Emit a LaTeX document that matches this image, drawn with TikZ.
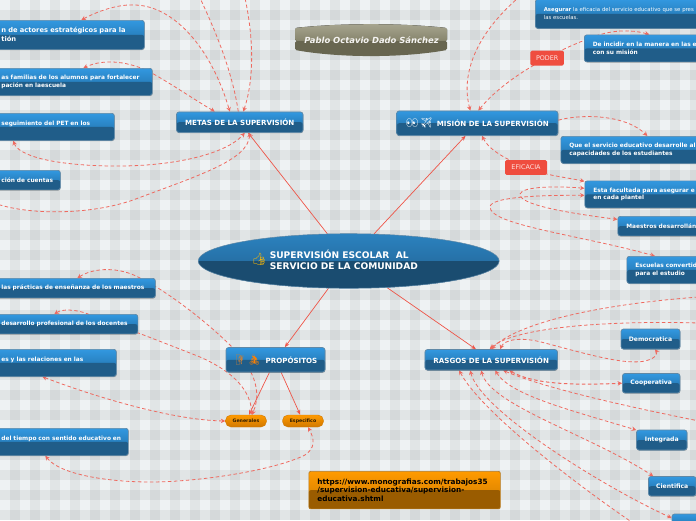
\documentclass[tikz,border=0pt]{standalone}
\usepackage{fontspec}
\setmainfont{DejaVu Sans}
\newfontfamily\emojifont{Noto Emoji}
\usetikzlibrary{arrows.meta,positioning,calc,shapes.geometric,backgrounds,shadows}

\definecolor{paper}{HTML}{EEF2F3}
\definecolor{sky}{HTML}{3298E0}
\definecolor{skyend}{HTML}{1F6AA0}
\definecolor{deep}{HTML}{205D89}
\definecolor{rim}{HTML}{5F88A6}
\definecolor{ovaltop}{HTML}{2B82BF}
\definecolor{ovalend}{HTML}{215F8E}
\definecolor{ovaldeep}{HTML}{1A4C70}
\definecolor{redlink}{HTML}{EE5548}
\definecolor{dashlink}{HTML}{EE6A60}
\definecolor{tagred}{HTML}{EF4D3F}
\definecolor{amber}{HTML}{FF9A00}
\definecolor{amberend}{HTML}{CC7A00}
\definecolor{amberdeep}{HTML}{9A5C00}
\definecolor{pilldeep}{HTML}{D07800}
\definecolor{olivetop}{HTML}{A8A690}
\definecolor{oliveend}{HTML}{86846C}
\definecolor{olivedeep}{HTML}{686650}

\tikzset{
  halfdark/.style={path picture={\fill[#1] (path picture bounding box.west) rectangle (path picture bounding box.south east);}},
  topic/.style={rectangle, rounded corners=2.5pt, draw=rim, line width=.7pt, inner sep=0pt, text=white,
    top color=sky, bottom color=skyend, halfdark=deep, font=\bfseries\fontsize{6.1}{7.8}\selectfont,
    drop shadow={shadow xshift=.3pt, shadow yshift=-.7pt, opacity=.3, fill=black}},
  head/.style={topic, align=center, font=\bfseries\fontsize{7.1}{8.5}\selectfont},
  leaf/.style={topic, align=center},
  sidebox/.style={topic, align=left, anchor=north west, inner xsep=8.5pt, font=\bfseries\fontsize{5.85}{7.8}\selectfont},
  tag/.style={rectangle, rounded corners=1.5pt, fill=tagred, text=white!85!tagred, inner sep=0pt,
    minimum height=14.8pt, font=\fontsize{6.4}{8}\selectfont},
  pill/.style={rectangle, rounded corners=5.5pt, draw=pilldeep, line width=.4pt, top color=amber, bottom color=pilldeep,
    inner sep=0pt, minimum width=41pt, minimum height=12pt, text=black!70!amberdeep,
    font=\bfseries\fontsize{4.7}{6}\selectfont},
  mainlink/.style={redlink, line width=.7pt, -{Stealth[length=5pt,width=4pt]}},
  rel/.style={dashlink, line width=.8pt, dash pattern=on 3.5pt off 2.5pt},
  both/.style={rel, {Stealth[length=4.5pt,width=4.5pt]}-{Stealth[length=4.5pt,width=4.5pt]}},
  toward/.style={rel, {Stealth[length=4.5pt,width=4.5pt]}-}
}

\begin{document}
\begin{tikzpicture}[x=1pt, y=-1pt]
  \useasboundingbox (0,0) rectangle (696,520);

  % centre and the four branches
  \node[ellipse, inner sep=0pt, minimum width=301pt, minimum height=54.6pt, draw=rim, line width=.5pt,
    top color=ovaltop, bottom color=ovalend, halfdark=ovaldeep, text=white,
    font=\bfseries\fontsize{9.1}{11}\selectfont] (centro) at (348.7,261)
    {\textcolor{orange!55!yellow}{\emojifont\fontsize{12}{12}\selectfont 👍}\hspace{3pt}\begin{tabular}{@{}l@{}}SUPERVISIÓN ESCOLAR\ \ AL\\SERVICIO DE LA COMUNIDAD\end{tabular}\kern28pt\relax};
  \node[head, minimum width=126.5pt, minimum height=20.5pt] (metas) at (239.8,122.2) {METAS DE LA SUPERVISIÓN};
  \node[head, minimum width=161.3pt, minimum height=24.5pt] (mision) at (477.3,123.2)
    {{\emojifont\fontsize{10}{10}\selectfont 👀\,✈}\hspace{4pt}MISIÓN DE LA SUPERVISIÓN};
  \node[head, minimum width=99pt, minimum height=24.5pt] (propositos) at (275.5,359.8)
    {{\emojifont\fontsize{10}{10}\selectfont\textcolor{brown}{🧗}\,\textcolor{orange}{🚴}}\ \ PROPÓSITOS};
  \node[head, minimum width=132.5pt, minimum height=20.5pt] (rasgos) at (491.2,359.8) {RASGOS DE LA SUPERVISIÓN};

  % metas
  \node[sidebox, inner xsep=7pt, text width=136pt, minimum height=29pt, font=\bfseries\fontsize{6.7}{9}\selectfont] (actores) at (-6,20)
    {n de actores estratégicos para la\\tión};
  \node[sidebox, inner xsep=7pt, text width=144pt, minimum height=27pt] (familias) at (-6,68)
    {\mbox{as familias de los alumnos para fortalecer}\\pación en laescuela};
  \node[sidebox, inner xsep=7pt, text width=106pt, minimum height=27pt] (pet) at (-6,113) {seguimiento del PET en los\\~};
  \node[sidebox, inner xsep=7pt, text width=52pt, minimum height=19.5pt] (cuentas) at (-6,170) {\mbox{ción de cuentas}};

  % mision
  \node[sidebox, text width=150pt, minimum height=29pt, font=\fontsize{5.35}{8}\selectfont] (asegurar) at (535,-1)
    {\mbox{\textbf{Asegurar} la eficacia del servicio educativo que se pres}\\las escuelas.};
  \node[sidebox, text width=120pt, minimum height=27pt] (incidir) at (584,34.5) {De incidir en la manera en las e\\con su misión};
  \node[sidebox, text width=140pt, minimum height=27pt] (servicio) at (560.5,136)
    {Que el servicio educativo desarrolle al\\capacidades de los estudiantes};
  \node[sidebox, text width=120pt, minimum height=27pt] (facultada) at (584.5,180.5) {Esta facultada para asegurar e\\en cada plantel};
  \node[sidebox, text width=85pt, minimum height=19.5pt] (maestros) at (617.5,216) {Maestros desarrollán};
  \node[sidebox, text width=75pt, minimum height=27pt] (escuelas) at (626.5,256) {Escuelas convertid\\para el estudio};
  \node[tag, minimum width=33.5pt] (poder) at (547.2,58.1) {PODER};
  \node[tag, minimum width=42pt] (eficacia) at (526,167.5) {EFICACIA};

  % propositos
  \node[sidebox, inner xsep=7pt, text width=147pt, minimum height=19.5pt] (practicas) at (-6,278)
    {\mbox{las prácticas de enseñanza de los maestros}};
  \node[sidebox, inner xsep=7pt, text width=129.5pt, minimum height=19.5pt] (desarrollo) at (-6,314)
    {\mbox{desarrollo profesional de los docentes}};
  \node[sidebox, inner xsep=7pt, text width=108pt, minimum height=27pt] (relaciones) at (-6,349) {es y las relaciones en las\\~};
  \node[sidebox, inner xsep=7pt, text width=120pt, minimum height=27pt] (tiempo) at (-6,428) {\mbox{del tiempo con sentido educativo en}\\~};
  \node[pill] (generales) at (246,421) {Generales};
  \node[pill] (especifico) at (303,421) {Especifico};

  % rasgos
  \node[leaf, minimum width=59pt, minimum height=20pt] (democratica) at (650.5,339) {Democratica};
  \node[leaf, minimum width=57.5pt, minimum height=19.5pt] (cooperativa) at (651.2,383.2) {Cooperativa};
  \node[leaf, minimum width=50.5pt, minimum height=20pt] (integrada) at (661.8,440) {Integrada};
  \node[leaf, minimum width=47.5pt, minimum height=19.5pt] (cientifica) at (672.2,486.2) {Cientifica};
  \node[leaf, minimum width=30pt, minimum height=16pt] (ultimo) at (687,522) {};

  % autor y enlace
  \fill[top color=olivetop, bottom color=oliveend, rounded corners=1.5pt] (295,41) -- (295,28) .. controls (340,23) and (402,23) .. (447,28) -- (447,41) -- cycle;
  \fill[olivedeep, rounded corners=1.5pt] (295,41) -- (295,50) .. controls (340,58) and (402,58) .. (447,50) -- (447,41) -- cycle;
  \node[inner sep=0pt, text=white!88!olivetop, font=\bfseries\itshape\fontsize{8.4}{9}\selectfont] (autor) at (371.5,40) {Pablo Octavio Dado Sánchez};
  \node[rectangle, rounded corners=2pt, draw=amberend!70!gray, line width=.7pt, top color=amber, bottom color=amberend, halfdark=amberdeep,
    anchor=north west, inner xsep=8.5pt, inner ysep=0pt, text width=174.5pt, minimum height=37.5pt, align=left, text=black,
    font=\bfseries\fontsize{7.3}{8.5}\selectfont] (enlace) at (308.5,471)
    {https://www.monografias.com/trabajos35\\/supervision-educativa/supervision-\\educativa.shtml};

  \coordinate (offa) at (200,-2);
  \coordinate (offb) at (245,-2);
  \coordinate (offc) at (-3,204);
  \coordinate (offd) at (518,-2);
  \coordinate (offe) at (699,297);
  \coordinate (offf) at (699,323);
  \coordinate (offg) at (699,421);
  \coordinate (offh) at (633,523);

  \begin{scope}[on background layer]
    \fill[paper] (0,0) rectangle (696,520);
    \foreach \x in {10,30,...,690} \fill[black,opacity=.05] (\x,0) rectangle ++(10,520);
    \foreach \y in {10,30,...,510} \fill[black,opacity=.05] (0,\y) rectangle ++(696,10);

    \draw[mainlink] (centro) -- (metas);
    \draw[mainlink] (centro) -- (mision);
    \draw[mainlink] (centro) -- (propositos);
    \draw[mainlink] (centro) -- (rasgos);
    \draw[mainlink] (propositos) -- (generales);
    \draw[mainlink] (propositos) -- (especifico);

    % metas
    \draw[both] ([xshift=12pt]actores.north) .. controls (100,10) and (120,4) .. (135,5) .. controls (175,6) and (212,50) .. ([xshift=-10pt]metas.north);
    \draw[rel] ([xshift=-1.5pt]metas.north) .. controls (232,70) and (215,30) .. (offa);
    \draw[toward] ([xshift=3.5pt]metas.north) .. controls (254,80) and (254,40) .. (offb);
    \draw[both] ([xshift=-25pt]metas.north) .. controls (195,100) and (170,83) .. (150,72) .. controls (130,62) and (105,58) .. ([xshift=10pt]familias.north);
    \draw[both] ([xshift=-41pt]pet.south) .. controls (18,155) and (50,165) .. (110,166) .. controls (170,167) and (225,155) .. ([xshift=5pt]metas.south);
    \draw[toward] ([xshift=10pt]metas.south) .. controls (248,160) and (200,175) .. (133,200) .. controls (90,215) and (30,215) .. (offc);

    % mision
    \draw[toward] ([xshift=-7pt]mision.north) .. controls (462,80) and (470,40) .. (offd);
    \draw[both] ([xshift=1pt]mision.north) .. controls (495,90) and (520,72) .. (547,58) .. controls (565,48) and (575,44) .. (590,38) .. controls (610,30) and (630,29) .. ([xshift=-3.5pt]incidir.north);
    \draw[rel, -{Stealth[length=4.5pt,width=4.5pt]}] ([yshift=3pt]mision.east) .. controls (580,114) and (625,114) .. ([xshift=8pt]servicio.north);
    \draw[both] ([xshift=4.7pt]mision.south) .. controls (488,148) and (500,156) .. (520,165) .. controls (540,175) and (565,177) .. ([yshift=13pt]facultada.west);
    \draw[both] ([yshift=6pt]facultada.west) .. controls (560,186) and (522,186) .. (520,194) .. controls (519,204) and (560,212) .. ([yshift=6.7pt]maestros.west);
    \draw[both] ([yshift=-1pt]facultada.west) .. controls (540,195) and (490,197) .. (490,207) .. controls (490,225) and (580,235) .. ([xshift=-18pt]escuelas.north);

    % rasgos
    \draw[toward] (rasgos.north) .. controls (515,325) and (590,305) .. (offe);
    \draw[toward] ([xshift=-1.5pt]rasgos.north) .. controls (510,330) and (590,320) .. (offf);
    \draw[both] ([xshift=9pt]rasgos.north) .. controls (504,340) and (520,336) .. (545,343) .. controls (590,355) and (625,365) .. (645,361) .. controls (658,358) and (657,352) .. ([xshift=4.5pt]democratica.south);
    \draw[both, line width=1pt] ([xshift=18pt]rasgos.south) .. controls (530,382) and (560,386) .. (cooperativa.west);
    \draw[toward] ([xshift=12pt]rasgos.south) .. controls (545,388) and (620,405) .. (offg);
    \draw[both] ([xshift=4pt]rasgos.south) .. controls (510,395) and (570,410) .. ([yshift=10pt]integrada.west);
    \draw[both] ([xshift=-10pt]rasgos.south) .. controls (490,405) and (590,435) .. ([xshift=-19pt]cientifica.north);
    \draw[both] ([xshift=-21pt]rasgos.south) .. controls (480,410) and (600,485) .. ([yshift=4pt]ultimo.west);
    \draw[toward] ([xshift=-32pt]rasgos.south) .. controls (480,410) and (570,480) .. (offh);

    % propositos
    \draw[both] ([xshift=2.5pt]practicas.north) .. controls (95,267) and (120,267) .. (140,278) .. controls (165,290) and (205,320) .. (232,347) .. controls (245,360) and (265,385) .. ([xshift=6pt]generales.north);
    \draw[both] ([xshift=-11.7pt]desarrollo.north) .. controls (62,309) and (75,309) .. (88,314) .. controls (110,322) and (170,345) .. (200,357) .. controls (225,368) and (250,385) .. ([xshift=6pt]generales.north);
    \draw[both] ([xshift=-13pt]relaciones.south) .. controls (90,395) and (170,420) .. (generales.west);
    \draw[both] ([xshift=-16pt]tiempo.south) .. controls (60,475) and (110,482) .. (150,482) .. controls (200,482) and (275,470) .. (305,455) .. controls (315,448) and (315,440) .. ([xshift=5pt]especifico.south);
  \end{scope}
\end{tikzpicture}
\end{document}
